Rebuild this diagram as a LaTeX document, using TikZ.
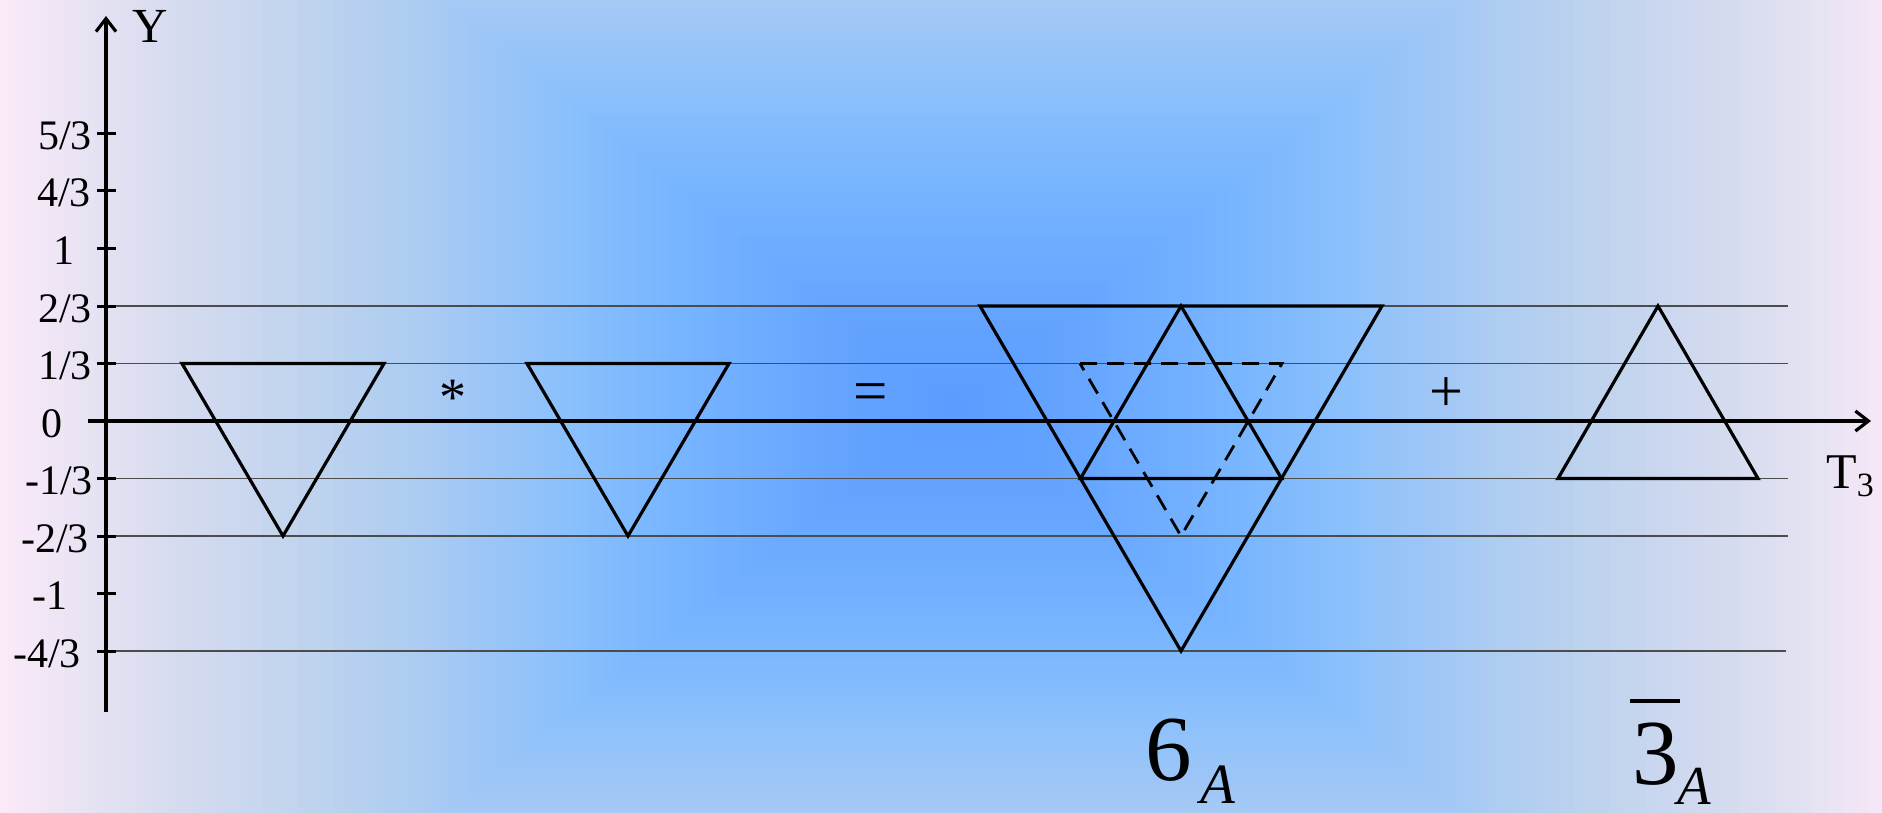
\documentclass[tikz,border=0pt]{standalone}
\usepackage{fontspec}
\setmainfont{Liberation Serif}
\usetikzlibrary{arrows.meta}
\definecolor{sA}{HTML}{FBE9F8}
\definecolor{sB}{HTML}{E4E2F2}
\definecolor{sC}{HTML}{D2DAEF}
\definecolor{sD}{HTML}{BAD1EE}
\definecolor{sE}{HTML}{A9CBF3}
\definecolor{sF}{HTML}{9DC6F7}
\definecolor{sG}{HTML}{88BFFC}
\definecolor{sH}{HTML}{78B5FF}
\definecolor{sI}{HTML}{66A6FF}
\definecolor{sJ}{HTML}{5B9BFF}
\tikzset{
  axisline/.style={line width=3.2pt, black},
  gridline/.style={line width=1.8pt, black!70},
  tickline/.style={line width=3pt, black},
  tri/.style={line width=3.2pt, black, line join=miter},
  dashtri/.style={line width=2.8pt, black, dash pattern=on 17pt off 10pt},
  lbl/.style={font=\fontsize{42}{42}\selectfont, anchor=base east, inner sep=0pt},
  opsym/.style={anchor=north, inner sep=0pt},
  tip/.style={-{Straight Barb[length=13pt,width=20pt]}}
}
\begin{document}
\begin{tikzpicture}[x=1pt,y=-1pt]
\useasboundingbox (0,0) rectangle (1882,813);
% background: rectangular gradient
\def\cx{954}\def\cy{406}\def\ax{954}\def\by{760}
\begin{scope}
\clip (0,0) rectangle (1882,813);
\fill[sA] (0,0) rectangle (1882,813);
\foreach \tA/\tB/\cA/\cB in {1.0/0.9/sA/sB, 0.9/0.8/sB/sC, 0.8/0.65/sC/sD, 0.65/0.55/sD/sE, 0.55/0.5/sE/sF, 0.5/0.4/sF/sG, 0.4/0.3/sG/sH, 0.3/0.15/sH/sI, 0.15/0.0/sI/sJ}{
  \foreach \k in {0,...,11}{
    \pgfmathsetmacro\tt{\tA-(\tA-\tB)*\k/12}
    \pgfmathtruncatemacro\pp{100*\k/12}
    \fill[\cB!\pp!\cA] ({\cx-\ax*\tt},{\cy-\by*\tt}) rectangle ({\cx+\ax*\tt},{\cy+\by*\tt});
  }
}
\end{scope}
% grid lines
\coordinate (g2l) at (116,306);   \coordinate (g2r) at (1788,306);
\coordinate (g1l) at (116,363.5); \coordinate (g1r) at (1788,363.5);
\coordinate (gm1l) at (116,478.5); \coordinate (gm1r) at (1788,478.5);
\coordinate (gm2l) at (116,536); \coordinate (gm2r) at (1788,536);
\coordinate (gm4l) at (116,651); \coordinate (gm4r) at (1786,651);
\draw[gridline] (g2l) -- (g2r);
\draw[gridline] (g1l) -- (g1r);
\draw[gridline] (gm1l) -- (gm1r);
\draw[gridline] (gm2l) -- (gm2r);
\draw[gridline] (gm4l) -- (gm4r);
% axes
\coordinate (yb) at (106,712); \coordinate (yt) at (106,16);
\coordinate (xl) at (88,421); \coordinate (xr) at (1871,421);
\draw[axisline, tip] (yb) -- (yt);
\draw[axisline, tip] (xl) -- (xr);
% ticks
\foreach \yy in {133.5,191,248.5,306,363.5,478.5,536,593.5,651}{
  \draw[tickline] (97,\yy) -- (116,\yy);
}
% tick labels
\node[lbl] (l53) at (92,149.5) {5/3};
\node[lbl] (l43) at (91,207) {4/3};
\node[lbl] (l1) at (74.5,264.5) {1};
\node[lbl] (l23) at (92,322) {2/3};
\node[lbl] (l13) at (92,379.5) {1/3};
\node[lbl] (l0) at (63,437) {0};
\node[lbl] (lm13) at (93,494.5) {-1/3};
\node[lbl] (lm23) at (89,552) {-2/3};
\node[lbl] (lm1) at (67.5,609.5) {-1};
\node[lbl] (lm43) at (81,667) {-4/3};
% axis labels
\node[anchor=base west, inner sep=0pt, font=\fontsize{49}{49}\selectfont] (ylab) at (132,43) {Y};
\node[anchor=base west, inner sep=0pt, font=\fontsize{50}{50}\selectfont] (t3) at (1826,488) {T\raisebox{-8pt}{\fontsize{34}{34}\selectfont 3}};
% triangles
\coordinate (a1) at (182,363.5); \coordinate (a2) at (384,363.5); \coordinate (a3) at (283,536);
\draw[tri] (a1) -- (a2) -- (a3) -- cycle;
\coordinate (b1) at (527,363.5); \coordinate (b2) at (729,363.5); \coordinate (b3) at (628,536);
\draw[tri] (b1) -- (b2) -- (b3) -- cycle;
\coordinate (c1) at (980,306); \coordinate (c2) at (1382,306); \coordinate (c3) at (1181,651);
\draw[tri] (c1) -- (c2) -- (c3) -- cycle;
\coordinate (d1) at (1181,306); \coordinate (d2) at (1080.5,478.5); \coordinate (d3) at (1281.5,478.5);
\draw[tri] (d1) -- (d2) -- (d3) -- cycle;
\coordinate (e1) at (1080,363.5); \coordinate (e2) at (1282,363.5); \coordinate (e3) at (1181,536);
\draw[dashtri] (e1) -- (e2) -- (e3) -- cycle;
\coordinate (f1) at (1658,306); \coordinate (f2) at (1558,478.5); \coordinate (f3) at (1758,478.5);
\draw[tri] (f1) -- (f2) -- (f3) -- cycle;
% operators
\node[opsym, font=\fontsize{54}{54}\selectfont] (star) at (453,380) {*};
\node[opsym, font=\fontsize{61}{61}\selectfont] (eq) at (870.5,383) {=};
\node[opsym, font=\fontsize{60}{60}\selectfont] (plus) at (1446,377) {+};
% representation labels
\node[anchor=base west, inner sep=0pt, font=\fontsize{93}{93}\selectfont] (six) at (1145,780) {6\kern9pt\raisebox{-23pt}{\fontsize{57}{57}\selectfont\itshape A}};
\node[anchor=base west, inner sep=0pt, font=\fontsize{93}{93}\selectfont] (three) at (1632,784) {\rlap{\kern-2pt\rule[81pt]{50pt}{4pt}}3\kern-1.5pt\raisebox{-20pt}{\fontsize{55}{55}\selectfont\itshape A}};
\end{tikzpicture}
\end{document}
